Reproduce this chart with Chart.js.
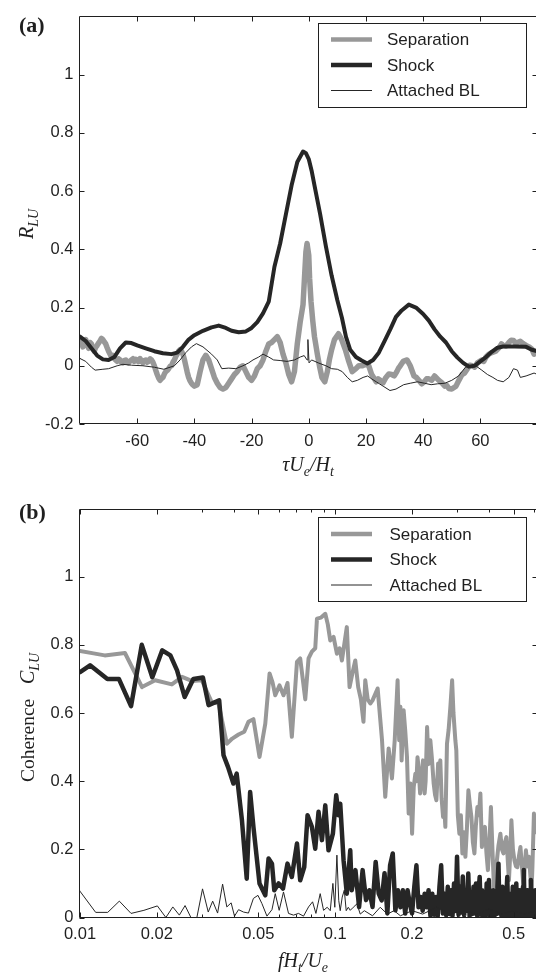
<!DOCTYPE html>
<html>
<head>
<meta charset="utf-8">
<script src="https://cdn.jsdelivr.net/npm/chart.js@4"></script>
<style>
  html, body { margin: 0; padding: 0; background: #fff; overflow: hidden; }
  #wrap { position: relative; width: 540px; height: 973px; }
  canvas { position: absolute; left: 0; }
  #corr { top: 0; }
  #coh { top: 480px; }
</style>
</head>
<body>
<div id="wrap">
  <canvas id="corr" width="540" height="480"></canvas>
  <canvas id="coh" width="540" height="493"></canvas>
</div>
<script>
// ---- series names -------------------------------------------------------
const seriesNames = ['Separation', 'Shock', 'Attached BL'];

// ---- (a) cross-correlation R_LU versus time lag tau*Ue/Ht ----------------
const lagTicks = [-60, -40, -20, 0, 20, 40, 60];
const rTicks = [-0.2, 0, 0.2, 0.4, 0.6, 0.8, 1];

const lagSep = [
  -80,-79.5,-79,-78.5,-78,-77.5,-77,-76.5,-76,-75.5,
  -75,-74.5,-74,-73.5,-73,-72.5,-72,-71.5,-71,-70.5,
  -70,-69.5,-69,-68.5,-68,-67.5,-67,-66.5,-66,-65.5,
  -65,-64.5,-64,-63.5,-63,-62.5,-62,-61.5,-61,-60.5,
  -60,-59.5,-59,-58.5,-58,-57.5,-57,-56.5,-56,-55.5,
  -55,-54.5,-54,-53.5,-53,-52.5,-52,-51.5,-51,-50.5,
  -50,-49.5,-49,-48.5,-48,-47.5,-47,-46.5,-46,-45.5,
  -45,-44.5,-44,-43.5,-43,-42.5,-42,-41.5,-41,-40.5,
  -40,-39,-38,-37,-36,-35,-34,-33,-32,-31,
  -30,-29,-28,-27,-26,-25,-24,-23,-22,-21,
  -20,-19,-18,-17,-16,-15,-14,-13,-12,-11,
  -10,-9,-8,-7,-6,-5,-4,-3,-2,-1.5,
  -1,-0.6,0,0.3,0.8,1.4,2,3,3.8,4.6,
  5.6,6.5,7.2,8,9,10.4,11.5,12.8,14,15.2,
  16.5,17.5,18.8,20,21,22,23.6,24.3,25,26,
  27,28,29,29.9,30.8,31.4,32,33,34.4,35.5,
  36.8,37.6,38.5,39.5,40.4,41.2,42,43,44,45.5,
  46.5,47.6,48.3,49,50,51.5,52.5,53.6,54.5,55.5,
  56.3,57.2,58,59,60.5,61.2,62,63,64,65.4,
  66.8,67.4,68,69,70,70.8,71.6,72.3,73,74,
  75,76,77,78,78.8,79.4,80];
const rSep = [
  0.077,0.088,0.065,0.078,0.090,0.072,0.060,0.080,0.075,0.060,
  0.050,0.064,0.070,0.078,0.085,0.094,0.090,0.082,0.075,0.062,
  0.050,0.040,0.030,0.036,0.025,0.020,0.015,0.024,0.020,0.012,
  0.010,0.018,0.020,0.012,0.010,0.016,0.020,0.024,0.015,0.022,
  0.020,0.014,0.025,0.016,0.010,0.018,0.020,0.012,0.015,0.024,
  0.020,0.012,0.000,-0.016,-0.030,-0.042,-0.050,-0.044,-0.040,-0.028,
  -0.020,-0.016,-0.010,-0.002,0.000,0.012,0.020,0.032,0.040,0.050,
  0.055,0.050,0.040,0.022,0.000,-0.022,-0.040,-0.052,-0.060,-0.066,
  -0.070,-0.065,-0.020,0.020,0.036,0.020,-0.010,-0.040,-0.060,-0.075,
  -0.080,-0.075,-0.060,-0.045,-0.030,-0.020,-0.005,0.000,-0.020,-0.040,
  -0.050,-0.035,-0.010,0.000,0.020,0.050,0.075,0.080,0.090,0.100,
  0.080,0.040,0.010,-0.030,-0.055,-0.020,0.076,0.150,0.210,0.300,
  0.390,0.420,0.380,0.300,0.220,0.155,0.100,0.040,-0.003,-0.040,
  -0.055,-0.020,0.020,0.055,0.090,0.110,0.090,0.055,0.015,-0.020,
  -0.010,0.000,0.000,0.005,0.000,-0.030,-0.055,-0.045,-0.050,-0.058,
  -0.040,-0.028,-0.030,-0.035,-0.020,-0.008,0.000,0.015,0.020,0.000,
  -0.035,-0.040,-0.050,-0.062,-0.055,-0.045,-0.045,-0.050,-0.035,-0.050,
  -0.058,-0.070,-0.068,-0.078,-0.080,-0.070,-0.050,-0.030,-0.025,-0.010,
  0.002,0.000,-0.005,0.010,0.020,0.015,0.030,0.040,0.045,0.050,
  0.065,0.075,0.070,0.068,0.080,0.088,0.087,0.078,0.080,0.084,
  0.076,0.070,0.065,0.058,0.040,0.045,0.050];

const lagShock = [-80,-78,-76,-74,-72,-70,-68,-66,-64,-62,
  -60,-57,-54,-51,-48,-46,-44,-42,-40,-37,
  -34,-31.5,-29,-27,-24.5,-22,-20,-18,-16,-14,
  -12,-10,-8,-6,-4,-2,-1,0,1,2,
  4,6,8,10,11.6,13,14.5,16.5,18.5,20.5,
  22.5,24.5,26.5,28.5,30.5,32.5,35,37.5,40,42,
  44,46,48,50,52,54,56,58,60,62,
  64,66,68,72,76,78,80];
const rShock = [0.100,0.085,0.060,0.035,0.022,0.020,0.030,0.060,0.080,0.078,
  0.070,0.060,0.050,0.043,0.040,0.045,0.065,0.090,0.105,0.120,
  0.132,0.138,0.130,0.120,0.115,0.118,0.130,0.150,0.180,0.220,
  0.340,0.420,0.520,0.620,0.700,0.736,0.730,0.710,0.670,0.620,
  0.520,0.410,0.310,0.225,0.165,0.100,0.055,0.030,0.018,0.008,
  0.020,0.045,0.085,0.125,0.168,0.190,0.210,0.200,0.178,0.155,
  0.125,0.100,0.080,0.050,0.028,0.010,-0.003,0.000,0.015,0.030,
  0.048,0.062,0.066,0.066,0.065,0.055,0.050];

const lagBL = [-80,-78,-76,-74.7,-72,-70,-67,-65,-62,-58,
  -54,-50.7,-48.5,-47,-45,-43,-41,-39.3,-37,-34,
  -32,-30.4,-28,-25.5,-23,-21,-19.5,-17.5,-16,-14,
  -12.3,-10,-7.6,-5,-3,-1.6,-0.6,-0.3,0.1,1,
  3.3,6,8,10,11.7,13.5,15.2,17,19,20.6,
  22,23.6,26,28.4,30.5,33.2,35.5,38,40.5,42.8,
  45,47.6,50,52.4,54.8,56.5,58.4,60.5,62.5,64.4,
  66,68,70,71.6,73,74,76,78.8,80];
const rBL = [0.025,0.015,-0.005,-0.015,-0.012,-0.010,0.000,0.005,0.002,0.000,
  -0.005,-0.012,-0.005,0.000,0.020,0.045,0.065,0.076,0.065,0.040,
  0.020,-0.010,-0.008,-0.010,0.000,0.010,0.020,0.030,0.040,0.030,
  0.020,0.018,0.015,0.020,0.030,0.035,0.020,0.090,0.010,0.020,
  0.010,0.000,-0.010,-0.012,-0.020,-0.040,-0.055,-0.050,-0.040,-0.035,
  -0.045,-0.055,-0.070,-0.085,-0.080,-0.065,-0.060,-0.055,-0.060,-0.065,
  -0.062,-0.060,-0.050,-0.035,-0.005,0.000,0.000,-0.015,-0.030,-0.040,
  -0.050,-0.055,-0.040,-0.010,-0.015,-0.040,-0.035,-0.025,-0.030];

// ---- (b) coherence C_LU versus fHt/Ue ----------------------------------
const freqTicks = [0.01, 0.02, 0.05, 0.1, 0.2, 0.5];
const freqMinor = [0.03, 0.04, 0.06, 0.07, 0.08, 0.09, 0.3, 0.4, 0.6];
const cohTicks = [0, 0.2, 0.4, 0.6, 0.8, 1];

const freqSep = [
  0.0100,0.0113,0.0125,0.0150,0.0175,0.0197,0.0229,0.0251,0.0274,0.0300,
  0.0328,0.0349,0.0376,0.0395,0.0418,0.0440,0.0457,0.0478,0.0505,0.0532,
  0.0553,0.0568,0.0582,0.0605,0.0627,0.0650,0.0676,0.0708,0.0729,0.0763,
  0.0786,0.0810,0.0835,0.0848,0.0880,0.0914,0.0935,0.0956,0.0985,0.1015,
  0.1040,0.1062,0.1110,0.1138,0.1170,0.1198,0.1230,0.1260,0.1290,0.1311,
  0.1340,0.1372,0.1400,0.1466,0.1525,0.1570,0.1619,0.1668,0.1710,0.1755,
  0.1780,0.1800,0.1820,0.1853,0.1880,0.1910,0.1939,0.1970,0.2000,0.2030,
  0.2060,0.2080,0.2100,0.2120,0.2150,0.2180,0.2207,0.2225,0.2240,0.2260,
  0.2290,0.2320,0.2358,0.2390,0.2430,0.2460,0.2490,0.2530,0.2555,0.2580,
  0.2610,0.2645,0.2670,0.2700,0.2740,0.2780,0.2825,0.2870,0.2905,0.2930,
  0.2955,0.2981,0.3022,0.3064,0.3106,0.3148,0.3191,0.3235,0.3279,0.3324,
  0.3370,0.3415,0.3462,0.3510,0.3556,0.3605,0.3654,0.3704,0.3754,0.3806,
  0.3858,0.3911,0.3963,0.4018,0.4073,0.4129,0.4185,0.4242,0.4299,0.4358,
  0.4437,0.4497,0.4559,0.4621,0.4684,0.4748,0.4791,0.4857,0.4900,0.4967,
  0.5035,0.5104,0.5173,0.5244,0.5315,0.5388,0.5461,0.5535,0.5586,0.5662,
  0.5739,0.5818,0.5871,0.5923,0.6004,0.6086,0.6169];
const cohSep = [
  0.782,0.775,0.769,0.776,0.676,0.696,0.684,0.706,0.694,0.696,
  0.632,0.628,0.510,0.525,0.537,0.545,0.574,0.582,0.471,0.569,
  0.716,0.690,0.652,0.681,0.652,0.688,0.530,0.750,0.760,0.640,
  0.760,0.780,0.790,0.877,0.880,0.891,0.860,0.813,0.823,0.774,
  0.790,0.754,0.852,0.676,0.720,0.754,0.676,0.640,0.574,0.696,
  0.640,0.628,0.637,0.672,0.520,0.354,0.496,0.408,0.520,0.696,
  0.520,0.618,0.461,0.608,0.549,0.471,0.305,0.393,0.246,0.383,
  0.422,0.400,0.470,0.442,0.364,0.400,0.461,0.430,0.364,0.400,
  0.559,0.450,0.520,0.470,0.393,0.360,0.344,0.452,0.420,0.461,
  0.350,0.295,0.330,0.266,0.510,0.550,0.618,0.696,0.600,0.559,
  0.520,0.490,0.300,0.246,0.300,0.188,0.250,0.178,0.260,0.373,
  0.330,0.295,0.220,0.188,0.270,0.324,0.300,0.364,0.207,0.250,
  0.266,0.190,0.139,0.220,0.324,0.200,0.090,0.150,0.168,0.210,
  0.246,0.200,0.188,0.220,0.236,0.160,0.109,0.200,0.285,0.200,
  0.168,0.150,0.148,0.180,0.207,0.150,0.090,0.160,0.197,0.150,
  0.178,0.120,0.070,0.150,0.305,0.250,0.285];

const freqShock = [
  0.0100,0.01095,0.0128,0.0142,0.01585,0.01746,0.0192,0.0210,0.0226,0.0240,
  0.0257,0.0278,0.0303,0.0319,0.0351,0.0365,0.0380,0.0399,0.0411,0.0431,
  0.0450,0.0464,0.0478,0.0505,0.0532,0.0548,0.0565,0.0577,0.0600,0.0624,
  0.0650,0.0676,0.0708,0.0729,0.0756,0.0779,0.0810,0.0835,0.0860,0.0887,
  0.0914,0.0941,0.0979,0.1009,0.1030,0.1046,0.1078,0.1110,0.1145,
  0.116,0.120,0.124,0.128,0.132,0.136,0.140,0.144,0.148,0.152,
  0.156,0.160,0.164,0.168,0.172,0.176,0.180,0.184,0.188,0.192,
  0.196,0.200,0.204,0.208,0.212,0.216,0.220,0.224,0.228,0.232,
  0.236,0.240,0.244,0.248,0.252,0.256,0.260,0.264,0.268,0.272,
  0.276,0.280,0.284,0.288,0.292,0.296,0.300,0.304,0.308,0.312,
  0.316,0.320,0.324,0.328,0.332,0.336,0.340,0.344,0.348,0.352,
  0.356,0.360,0.364,0.368,0.372,0.376,0.380,0.384,0.388,0.392,
  0.396,0.400,0.404,0.408,0.412,0.416,0.420,0.424,0.428,0.432,
  0.436,0.440,0.444,0.448,0.452,0.456,0.460,0.464,0.468,0.472,
  0.476,0.480,0.484,0.488,0.492,0.496,0.500,0.504,0.508,0.512,
  0.516,0.520,0.524,0.528,0.532,0.536,0.540,0.544,0.548,0.552,
  0.556,0.560,0.564,0.568,0.572,0.576,0.580,0.584,0.588,0.592,
  0.596,0.600,0.604,0.608,0.612,0.616,0.620];
const cohShock = [
  0.720,0.740,0.700,0.700,0.620,0.800,0.705,0.784,0.769,0.725,
  0.647,0.700,0.704,0.623,0.637,0.476,0.442,0.393,0.422,0.285,
  0.114,0.368,0.266,0.100,0.065,0.173,0.158,0.080,0.100,0.085,
  0.158,0.119,0.217,0.109,0.148,0.300,0.266,0.202,0.310,0.227,
  0.329,0.197,0.246,0.359,0.300,0.334,0.168,0.070,0.197,
  0.080,0.139,0.031,0.139,0.051,0.080,0.031,0.163,0.070,0.050,
  0.130,0.012,0.153,0.188,0.021,0.080,0.030,0.080,0.012,0.080,
  0.040,0.012,0.090,0.153,0.030,0.060,0.020,0.070,0.030,0.080,
  0.005,0.070,0.008,0.060,0.004,0.090,0.153,0.012,0.070,0.006,
  0.090,0.010,0.080,0.005,0.100,0.020,0.178,0.008,0.090,0.015,
  0.120,0.006,0.080,0.020,0.129,0.004,0.070,0.010,0.090,0.012,
  0.100,0.005,0.070,0.119,0.008,0.080,0.004,0.060,0.003,0.100,
  0.012,0.110,0.004,0.070,0.008,0.080,0.003,0.060,0.010,0.090,
  0.158,0.012,0.070,0.004,0.090,0.008,0.080,0.005,0.060,0.119,
  0.008,0.070,0.003,0.060,0.010,0.090,0.005,0.070,0.012,0.100,
  0.004,0.060,0.008,0.080,0.003,0.070,0.012,0.090,0.139,0.006,
  0.070,0.004,0.080,0.012,0.060,0.003,0.070,0.110,0.008,0.080,
  0.005,0.070,0.012,0.080,0.006,0.060,0.030];

const freqBL = [0.0100,0.01152,0.01284,0.01426,0.01585,0.0178,0.0201,0.0217,0.0231,0.0245,
  0.0258,0.0272,0.0287,0.0302,0.0318,0.0331,0.0346,0.0362,0.0376,0.0391,
  0.0403,0.0418,0.0437,0.0457,0.0478,0.0498,0.0516,0.0540,0.0565,0.0582,
  0.0603,0.0627,0.0656,0.0686,0.0718,0.0751,0.0786,0.0815,0.0840,0.0873,
  0.0900,0.0930,0.0956,0.0979,0.0996,0.1015,0.1032,0.1046,0.1065,0.1085,
  0.1104,0.1125,0.1145,0.1177,0.1216,0.1253,0.130,0.140,0.150,0.160,
  0.170,0.180,0.200,0.220,0.250,0.280,0.320,0.360,0.400,0.450,
  0.500,0.550,0.620];
const cohBL = [0.077,0.015,0.015,0.048,0.012,0.021,0.034,0.000,0.031,0.007,
  0.035,0.000,0.000,0.084,0.016,0.048,0.013,0.098,0.031,0.043,
  0.004,0.023,0.016,0.013,0.056,0.065,0.041,0.004,0.023,0.070,
  0.021,0.075,0.012,0.007,0.012,0.004,0.031,0.046,0.012,0.070,
  0.021,0.030,0.020,0.100,0.030,0.183,0.050,0.020,0.060,0.080,
  0.020,0.030,0.021,0.030,0.040,0.010,0.020,0.005,0.030,0.010,
  0.020,0.005,0.020,0.010,0.030,0.010,0.020,0.010,0.025,0.010,
  0.020,0.010,0.020];

// ---- styling ------------------------------------------------------------
const ink = '#1f1f1f';
const sepColor = '#989898';
const shockColor = '#262626';
const blColor = '#262626';
const sans = '"Liberation Sans", Arial, Helvetica, sans-serif';
const serif = '"Liberation Serif", "Times New Roman", serif';

const pairs = (xs, ys) => xs.map((x, i) => ({ x, y: ys[i] }));

// Text with italic symbols and subscripts, centred on cx along its baseline.
function richFont(style) {
  if (style === 'r') return '19.5px ' + serif;
  if (style === 's') return 'italic 14px ' + serif;
  return 'italic 20px ' + serif;
}
function drawRich(ctx, parts, cx, baseY) {
  let w = 0;
  parts.forEach(p => { ctx.font = richFont(p[1]); w += ctx.measureText(p[0]).width; });
  let x = cx - w / 2;
  ctx.textAlign = 'left';
  ctx.textBaseline = 'alphabetic';
  parts.forEach(p => {
    ctx.font = richFont(p[1]);
    ctx.fillText(p[0], x, baseY + (p[1] === 's' ? 5 : 0));
    x += ctx.measureText(p[0]).width;
  });
}

// Box frame with inward ticks on all sides, boxed legend, axis titles.
const framePlugin = {
  id: 'frame',
  afterDatasetsDraw(chart, _args, o) {
    const { ctx, chartArea: a } = chart;
    const xs = chart.scales.x, ys = chart.scales.y;
    const L = Math.round(a.left) - 0.5, R = Math.round(a.right) - 0.5;
    const T = Math.round(a.top) + 0.5, B = Math.round(a.bottom) - 0.5;
    ctx.save();
    ctx.strokeStyle = ink;
    ctx.lineWidth = 1;
    ctx.beginPath();
    ctx.rect(L, T, R - L, B - T);
    const xTick = (vals, len) => vals.forEach(v => {
      const p = Math.round(xs.getPixelForValue(v)) + 0.5;
      ctx.moveTo(p, B); ctx.lineTo(p, B - len);
      ctx.moveTo(p, T); ctx.lineTo(p, T + len);
    });
    xTick(o.xMajor, 5);
    xTick(o.xMinor || [], 3);
    o.yMajor.forEach(v => {
      const p = Math.round(ys.getPixelForValue(v)) + 0.5;
      ctx.moveTo(L, p); ctx.lineTo(L + 5, p);
      ctx.moveTo(R, p); ctx.lineTo(R - 5, p);
    });
    ctx.stroke();

    // legend
    const g = o.legend;
    ctx.fillStyle = '#fff';
    ctx.fillRect(g.x, g.y, g.w, g.h);
    ctx.strokeRect(g.x + 0.5, g.y + 0.5, g.w, g.h);
    ctx.font = '17px ' + sans;
    ctx.textAlign = 'left';
    ctx.textBaseline = 'middle';
    chart.data.datasets.forEach((ds, i) => {
      const yy = g.rows[i];
      ctx.strokeStyle = ds.borderColor;
      ctx.lineWidth = ds.legendWidth;
      ctx.lineCap = 'butt';
      ctx.beginPath();
      ctx.moveTo(g.x1, yy); ctx.lineTo(g.x2, yy);
      ctx.stroke();
      ctx.fillStyle = ink;
      ctx.fillText(ds.label, g.textX, yy + 1);
    });
    ctx.restore();
  },
  afterDraw(chart, _args, o) {
    const ctx = chart.ctx;
    ctx.save();
    ctx.fillStyle = ink;
    ctx.font = 'bold 22px ' + serif;
    ctx.textAlign = 'left';
    ctx.textBaseline = 'alphabetic';
    ctx.fillText(o.panel.text, o.panel.x, o.panel.y);
    drawRich(ctx, o.xTitle.parts, o.xTitle.cx, o.xTitle.y);
    ctx.translate(o.yTitle.x, o.yTitle.cy);
    ctx.rotate(-Math.PI / 2);
    drawRich(ctx, o.yTitle.parts, 0, 0);
    ctx.restore();
  }
};

function lineSet(label, data, color, width, legendWidth, order) {
  return {
    label, data, order, legendWidth,
    borderColor: color, borderWidth: width,
    pointRadius: 0, tension: 0, fill: false,
    borderJoinStyle: 'round', borderCapStyle: 'round', clip: 0
  };
}

function tickFont() { return { family: sans, size: 16.5 }; }

function makeChart(id, cfg) {
  return new Chart(document.getElementById(id), {
    type: 'line',
    data: { datasets: cfg.datasets },
    options: {
      responsive: false,
      animation: false,
      devicePixelRatio: 1,
      layout: { padding: { top: cfg.top, right: 2.5, bottom: 0, left: 0 } },
      plugins: {
        legend: { display: false },
        tooltip: { enabled: false },
        frame: cfg.frame
      },
      scales: {
        x: Object.assign({
          grid: { display: false, drawTicks: false, tickLength: 0 }, border: { display: false },
          afterBuildTicks: s => { s.ticks = cfg.xTicks.map(v => ({ value: v })); },
          afterFit: s => { s.height = cfg.xHeight; },
          ticks: { font: tickFont(), color: ink, padding: cfg.xPad, maxRotation: 0, autoSkip: false,
                   callback: v => String(v) }
        }, cfg.xScale),
        y: {
          min: cfg.yMin, max: cfg.yMax,
          grid: { display: false, drawTicks: false, tickLength: 0 }, border: { display: false },
          afterBuildTicks: s => { s.ticks = cfg.yTicks.map(v => ({ value: v })); },
          afterFit: s => { s.width = 80; },
          ticks: { font: tickFont(), color: ink, padding: 6.5, callback: v => String(v) }
        }
      }
    },
    plugins: [framePlugin]
  });
}

// (a) correlation panel
makeChart('corr', {
  top: 14, xHeight: 56, xPad: 8,
  xScale: { type: 'linear', min: -80, max: 80 },
  xTicks: lagTicks, yTicks: rTicks, yMin: -0.2, yMax: 1.2,
  datasets: [
    lineSet(seriesNames[0], pairs(lagSep, rSep), sepColor, 5.5, 4.5, 3),
    lineSet(seriesNames[1], pairs(lagShock, rShock), shockColor, 4, 4.5, 2),
    lineSet(seriesNames[2], pairs(lagBL, rBL), blColor, 1, 1, 1)
  ],
  frame: {
    xMajor: lagTicks, yMajor: rTicks,
    legend: { x: 318, y: 23, w: 208, h: 84, rows: [39.5, 65, 90.5], x1: 331, x2: 372, textX: 387 },
    panel: { text: '(a)', x: 19, y: 31.5 },
    xTitle: { parts: [['τ', 'i'], ['U', 'i'], ['e', 's'], ['/', 'i'], ['H', 'i'], ['t', 's']], cx: 308, y: 471 },
    yTitle: { parts: [['R', 'i'], ['LU', 's']], x: 33, cy: 224 }
  }
});

// (b) coherence panel
makeChart('coh', {
  top: 28.5, xHeight: 55.5, xPad: 7,
  xScale: { type: 'logarithmic', min: 0.01, max: 0.62 },
  xTicks: freqTicks, yTicks: cohTicks, yMin: 0, yMax: 1.2,
  datasets: [
    lineSet(seriesNames[0], pairs(freqSep, cohSep), sepColor, 4, 4.5, 3),
    lineSet(seriesNames[1], pairs(freqShock, cohShock), shockColor, 4.5, 4.5, 2),
    lineSet(seriesNames[2], pairs(freqBL, cohBL), blColor, 1, 1, 1)
  ],
  frame: {
    xMajor: freqTicks, xMinor: freqMinor, yMajor: cohTicks,
    legend: { x: 318, y: 37, w: 208, h: 84, rows: [54, 79.5, 105], x1: 331, x2: 372, textX: 389.5 },
    panel: { text: '(b)', x: 19, y: 39 },
    xTitle: { parts: [['f', 'i'], ['H', 'i'], ['t', 's'], ['/', 'i'], ['U', 'i'], ['e', 's']], cx: 303, y: 487 },
    yTitle: { parts: [['Coherence', 'r'], ['   ', 'r'], ['C', 'i'], ['LU', 's']], x: 34, cy: 237.5 }
  }
});
</script>
</body>
</html>
